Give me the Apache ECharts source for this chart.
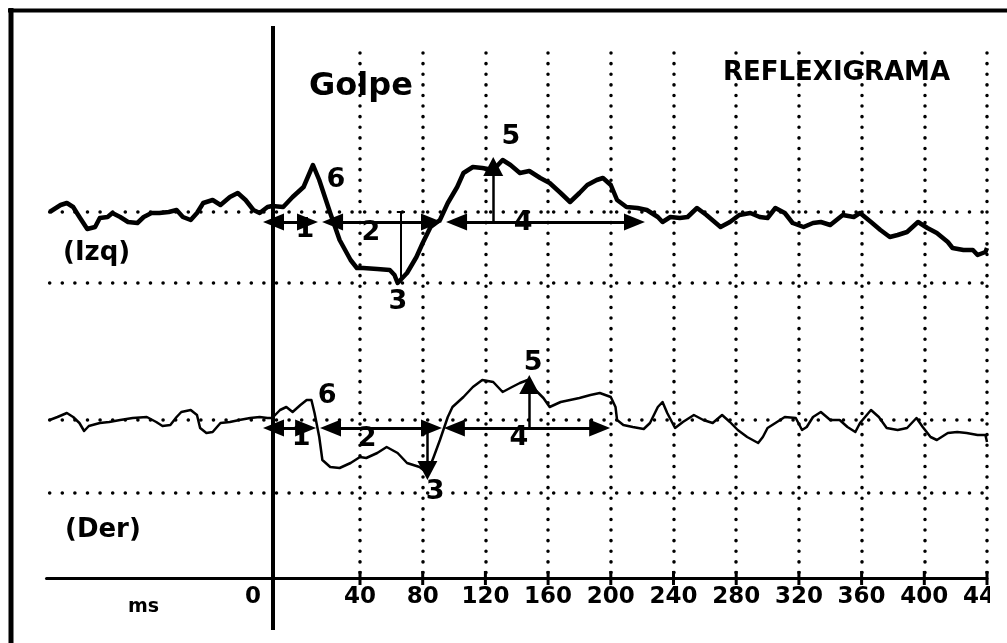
<!DOCTYPE html>
<html>
<head>
<meta charset="utf-8">
<script src="https://cdn.jsdelivr.net/npm/echarts@6/dist/echarts.min.js"></script>
<style>html,body{margin:0;padding:0;background:#fff}#c{width:1007px;height:643px}</style>
</head>
<body>
<div id="c"></div>
<script>
// ---------- DATA ----------
// time in ms, amplitude in arbitrary units relative to each trace's baseline
const timesIzq = [-158,-156,-151,-147,-143,-139,-134,-129,-126,-121,-118,-113,-108,-102,-98,-93,-88,-82,-77,-73,-68,-64,-60,-54,-49,-43,-38,-33,-28,-24,-19,-16,-9,-3,4,10,14,21,27,34,38,42,51,59,62,64,70,76,80,85,91,96,102,106,112,118,125,131,136,142,148,155,161,168,174,180,185,191,195,200,204,210,217,223,230,233,238,244,249,255,261,270,276,282,289,295,300,305,311,316,323,329,334,340,348,355,359,366,372,378,383,389,396,402,408,415,418,425,431,434,439,440];
const ampIzq = [0,2,7,9,5,-5,-17,-15,-6,-5,-1,-5,-10,-11,-5,-1,-1,0,2,-5,-8,-1,9,12,7,15,19,12,2,-1,5,6,5,15,25,47,32,-1,-28,-48,-56,-56,-57,-58,-63,-71,-61,-45,-31,-15,-8,9,25,39,45,44,42,52,47,39,41,34,29,19,10,19,27,32,34,27,12,5,4,2,-5,-10,-5,-6,-5,4,-3,-15,-10,-3,-1,-5,-6,4,-1,-11,-15,-11,-10,-13,-3,-5,-1,-10,-18,-25,-23,-20,-10,-16,-21,-30,-36,-38,-38,-43,-40,-36];

const timesDer = [-158,-153,-147,-143,-139,-136,-133,-126,-120,-113,-105,-96,-90,-86,-81,-77,-74,-68,-64,-62,-58,-54,-49,-43,-37,-30,-24,-19,-16,-11,-7,-3,2,6,9,11,14,16,21,27,34,40,44,51,57,64,70,74,78,83,87,91,96,99,106,112,118,125,131,137,142,147,150,157,161,168,174,180,187,193,200,203,204,208,214,221,225,230,233,236,241,246,253,259,265,271,276,281,287,294,297,300,306,311,318,322,325,329,334,340,346,351,356,359,366,371,376,383,389,395,399,404,408,415,421,427,434,439,440];
const ampDer = [0,3,7,3,-3,-11,-6,-3,-2,0,2,3,-2,-6,-5,3,8,10,5,-8,-13,-12,-3,-2,0,2,3,2,2,10,13,8,15,20,20,7,-17,-40,-47,-48,-43,-37,-38,-33,-27,-33,-43,-45,-47,-53,-37,-20,3,13,23,33,40,38,28,33,37,40,33,22,13,18,20,22,25,27,23,13,0,-5,-7,-9,-3,13,18,7,-8,-2,5,0,-3,5,-2,-10,-17,-23,-17,-8,-2,3,2,-10,-7,3,8,0,0,-7,-12,-3,10,3,-8,-10,-8,2,-7,-17,-20,-13,-12,-13,-15,-15,-22];

const xTicks = [40,80,120,160,200,240,280,320,360,400,440];
const GOLPE_MS = -15.5;                 // stimulus line as drawn
const golpeSpan = [186, -418];          // vertical extent of stimulus line (Izq units)
const gridLevelsIzq = [0, -71];
const gridLevelsDer = [0, -73];

// latency segments (arrow-centre positions, ms)
const segIzq = [[-15.2, 6.5], [22.5, 85.6], [101.6, 215.1]];
const segDer = [[-15.2, 5.3], [21.2, 85.6], [100.2, 192.9]];
const arrowLevelIzq = -10, arrowLevelDer = -8;
// peak markers: [ms, from, to]
const peakIzq5 = [125, -10, 45.5];
const peakDer3 = [83, -8, -50.5];
const peakDer5 = [148, -8, 35.5];
const troughIzq3 = [66, 0, -66];
// number labels: [text, ms, amplitude]
const labelsIzq = [['1',4.9,-18],['2',47,-21],['3',64.2,-90],['4',144,-11],['5',136.3,75],['6',24.7,32]];
const labelsDer = [['1',2.4,-18],['2',44.5,-19],['3',87.9,-72],['4',141.4,-18],['5',150.4,57],['6',19,24]];

// ---------- CHART ----------
const FONT = 'DejaVu Sans';
const Y0 = {min:-366, max:159};
const Y1 = {min:-158, max:367};
const zip = (xs, ys) => xs.map((x, i) => [x, ys[i]]);
const solid = w => ({type:'solid', width:w, color:'#000', cap:'butt'});
const dotV = {type:[0.1, 10.5], width:3.5, color:'#000', cap:'round'};
const dotH = {type:[0.1, 12.5], width:3.5, color:'#000', cap:'round'};
function seg(p1, p2, style, s1, s2, size) {
  return [
    {coord:p1, symbol:s1 || 'none', symbolSize:size || 0, lineStyle:style},
    {coord:p2, symbol:s2 || 'none', symbolSize:size || 0}
  ];
}
const xFirst = timesIzq[0], xLast = xTicks[xTicks.length - 1];
const ARROW_H = [17, 21], ARROW_V = [20, 19];

const izqLines = [].concat(
  xTicks.map(t => seg([t, Y0.max], [t, Y0.min], dotV)),
  gridLevelsIzq.map(v => seg([xFirst, v], [xLast, v], dotH)),
  segIzq.map(s => seg([s[0], arrowLevelIzq], [s[1], arrowLevelIzq], solid(3), 'triangle', 'triangle', ARROW_H)),
  [seg([peakIzq5[0], peakIzq5[1]], [peakIzq5[0], peakIzq5[2]], solid(2.5), 'none', 'triangle', ARROW_V)],
  [seg([troughIzq3[0], troughIzq3[1]], [troughIzq3[0], troughIzq3[2]], solid(2))],
  [seg([troughIzq3[0] - 2.5, 0], [troughIzq3[0] + 2.7, 0], solid(2))]
);
const derLines = [].concat(
  gridLevelsDer.map(v => seg([xFirst, v], [xLast, v], dotH)),
  segDer.map(s => seg([s[0], arrowLevelDer], [s[1], arrowLevelDer], solid(3), 'triangle', 'triangle', ARROW_H)),
  [seg([peakDer3[0], peakDer3[1]], [peakDer3[0], peakDer3[2]], solid(2.5), 'none', 'triangle', ARROW_V)],
  [seg([peakDer5[0], peakDer5[1]], [peakDer5[0], peakDer5[2]], solid(2.5), 'none', 'triangle', ARROW_V)]
);
const numLabel = {show:true, position:'inside', formatter:'{b}', fontSize:27, fontWeight:'bold', fontFamily:FONT, color:'#000'};
const mp = labels => ({
  silent:true, animation:false, symbol:'rect', symbolSize:1,
  itemStyle:{color:'rgba(0,0,0,0)'}, label:numLabel,
  data: labels.map(l => ({name:l[0], coord:[l[1], l[2]], value:0}))
});
const mlBase = {silent:true, animation:false, symbol:['none','none'], label:{show:false}, emphasis:{disabled:true}};

const chart = echarts.init(document.getElementById('c'));
const txt = (t, x, y, size) => ({type:'text', z:50, style:{text:t, x:x, y:y, font:'bold ' + size + 'px "' + FONT + '"', fill:'#000', textAlign:'left', textVerticalAlign:'middle'}});
chart.setOption({
  animation:false,
  backgroundColor:'#fff',
  grid:{left:46.5, right:20, top:53, bottom:65, containLabel:false, outerBoundsMode:'none'},
  xAxis:{type:'value', min:-160, max:440, interval:40,
    axisLine:{show:true, onZero:false, lineStyle:{color:'#000', width:3}},
    axisTick:{show:false}, splitLine:{show:false},
    axisLabel:{formatter:v => v > 0 ? String(v) : '', fontSize:23, fontWeight:'bold', fontFamily:FONT, color:'#000', margin:8}},
  yAxis:[
    {type:'value', min:Y0.min, max:Y0.max, show:false},
    {type:'value', min:Y1.min, max:Y1.max, show:false}
  ],
  series:[
    {name:'Izq', type:'line', xAxisIndex:0, yAxisIndex:0, data:zip(timesIzq, ampIzq), symbol:'none', clip:false,
     lineStyle:{color:'#000', width:4.5, join:'round'}, z:5,
     markLine:Object.assign({}, mlBase, {data:izqLines}), markPoint:mp(labelsIzq)},
    {name:'Der', type:'line', xAxisIndex:0, yAxisIndex:1, data:zip(timesDer, ampDer), symbol:'none', clip:false,
     lineStyle:{color:'#000', width:2.5, join:'round'}, z:5,
     markLine:Object.assign({}, mlBase, {data:derLines}), markPoint:mp(labelsDer)},
    {name:'Golpe', type:'line', xAxisIndex:0, yAxisIndex:0, symbol:'none', clip:false, silent:true, z:6,
     data:golpeSpan.map(v => [GOLPE_MS, v]), lineStyle:{color:'#000', width:4, cap:'butt'}},
    {name:'ticks', type:'custom', xAxisIndex:0, yAxisIndex:0, silent:true, clip:false, z:6,
     data:xTicks.map(t => [t]),
     renderItem:(params, api) => {
       const p = api.coord([api.value(0), Y0.min]);
       return {type:'line', shape:{x1:p[0], y1:p[1] - 7, x2:p[0], y2:p[1] + 7}, style:{stroke:'#000', lineWidth:3}};
     }}
  ],
  graphic:[
    {type:'line', z:60, shape:{x1:11, y1:8, x2:11, y2:643}, style:{stroke:'#000', lineWidth:5}},
    {type:'line', z:60, shape:{x1:8, y1:10.5, x2:1007, y2:10.5}, style:{stroke:'#000', lineWidth:4}},
    {type:'rect', z:55, shape:{x:990, y:14, width:17, height:629}, style:{fill:'#fff'}},
    txt('Golpe', 309, 87, 32),
    txt('REFLEXIGRAMA', 723, 73, 26),
    txt('(Izq)', 63, 253, 26),
    txt('(Der)', 65, 530, 26),
    txt('ms', 128, 607, 19),
    txt('0', 245, 597, 23)
  ]
});
</script>
</body>
</html>
